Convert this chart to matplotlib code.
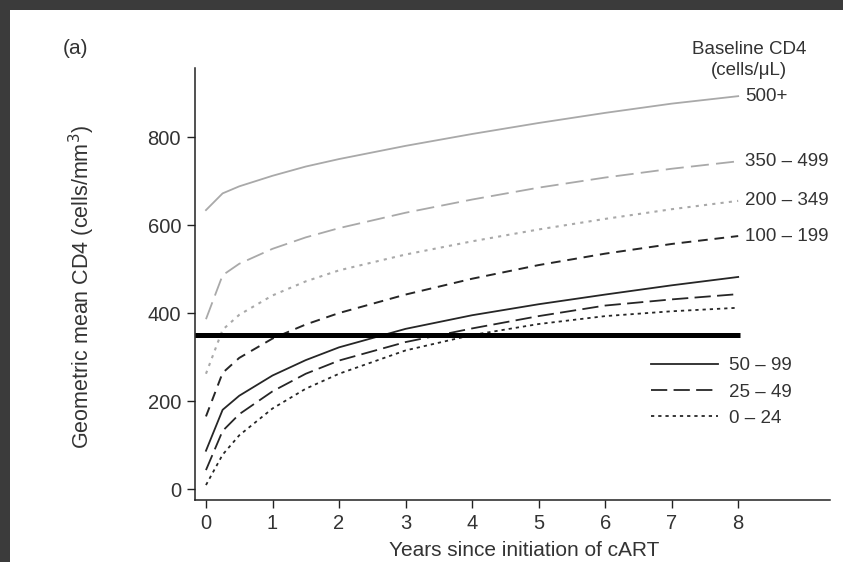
import matplotlib
matplotlib.use("Agg")
import matplotlib.pyplot as plt
from matplotlib.patches import Rectangle

plt.rcParams['font.family'] = ['Liberation Sans', 'DejaVu Sans']

# years since cART start and geometric mean CD4 for each baseline group
years = [0, 0.25, 0.5, 1, 1.5, 2, 3, 4, 5, 6, 7, 8]
cd4_500 = [634, 672, 688, 712, 733, 750, 780, 807, 832, 855, 876, 893]
cd4_350 = [386, 486, 512, 546, 572, 593, 628, 658, 685, 708, 728, 745]
cd4_200 = [262, 362, 396, 440, 472, 497, 533, 563, 590, 614, 636, 655]
cd4_100 = [165, 264, 298, 342, 374, 400, 442, 478, 509, 535, 557, 575]
cd4_50 = [87, 180, 212, 258, 293, 322, 364, 395, 420, 442, 463, 482]
cd4_25 = [43, 132, 170, 222, 262, 292, 334, 365, 393, 417, 431, 443]
cd4_0 = [9, 78, 122, 183, 228, 262, 315, 350, 375, 393, 404, 412]

upper_labels = ['500+', '350 \u2013 499', '200 \u2013 349', '100 \u2013 199']
lower_labels = ['50 \u2013 99', '25 \u2013 49', '0 \u2013 24']
threshold = 350

fig = plt.figure(figsize=(8.43, 5.62), dpi=100)
fig.patch.set_facecolor('white')
# dark frame strips along top and left edge of the scan
fig.patches.append(Rectangle((0, 1 - 10 / 562), 1, 10 / 562, transform=fig.transFigure,
                             facecolor='#3b3b3b', edgecolor='none', zorder=-1))
fig.patches.append(Rectangle((0, 0), 10 / 843, 1, transform=fig.transFigure,
                             facecolor='#3b3b3b', edgecolor='none', zorder=-1))

ax = fig.add_axes([195 / 843, 62 / 562, 635 / 843, 432 / 562])
ax.set_facecolor('none')

grey = '#a9a9a9'
dark = '#262626'
ax.plot(years, cd4_500, color=grey, lw=1.3)
ax.plot(years, cd4_350, color=grey, lw=1.3, dashes=(10, 4))
ax.plot(years, cd4_200, color=grey, lw=1.5, dashes=(1.5, 2.5))
ax.plot(years, cd4_100, color=dark, lw=1.4, dashes=(5, 3.5))
l50, = ax.plot(years, cd4_50, color=dark, lw=1.3)
l25, = ax.plot(years, cd4_25, color=dark, lw=1.3, dashes=(9, 3.5))
l0, = ax.plot(years, cd4_0, color=dark, lw=1.3, dashes=(1.8, 2.2))

ax.set_xlim(-0.165, 9.38)
ax.set_ylim(-25, 957)
ax.hlines(threshold, -0.165, 8.03, color='black', lw=3.6, zorder=5)

for vals, lab in zip([cd4_500, cd4_350, cd4_200, cd4_100], upper_labels):
    ax.annotate(lab, (years[-1], vals[-1]), xytext=(7, 0), textcoords='offset pixels',
                va='center', ha='left', fontsize=13.5, color='#333333')

ax.legend([l50, l25, l0], lower_labels, loc='center left',
          bbox_to_anchor=(634 / 843, 170 / 562), bbox_transform=fig.transFigure,
          frameon=False, fontsize=13.5, handlelength=3.6, handletextpad=0.55,
          labelspacing=0.48, borderpad=0.4, labelcolor='#333333')

ax.set_xticks(range(0, 9))
ax.set_yticks([0, 200, 400, 600, 800])
for s in ['top', 'right']:
    ax.spines[s].set_visible(False)
for s in ['left', 'bottom']:
    ax.spines[s].set_linewidth(1.1)
    ax.spines[s].set_color('#222222')
ax.tick_params(direction='out', length=6, width=1.0, labelsize=14.5,
               colors='#222222', labelcolor='#333333', pad=4)

fig.text(524 / 843, 1 - 550 / 562, 'Years since initiation of cART', ha='center',
         va='center', fontsize=15, color='#333333')
fig.text(82 / 843, 1 - 287 / 562, 'Geometric mean CD4 (cells/mm$^3$)', rotation=90,
         ha='center', va='center', fontsize=15.5, color='#333333')
fig.text(76 / 843, 1 - 48 / 562, '(a)', ha='center', va='center', fontsize=15,
         color='#333333')
fig.text(749 / 843, 1 - 60 / 562, 'Baseline CD4\n(cells/\u03bcL)', ha='center',
         va='center', fontsize=13.5, color='#333333', linespacing=1.35)

fig.savefig('out.png', dpi=100)
